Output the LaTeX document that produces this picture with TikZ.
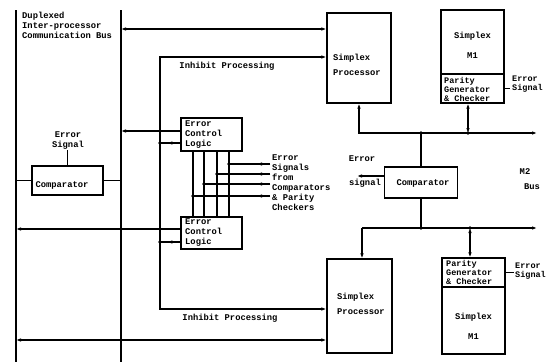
\documentclass[tikz,border=0pt]{standalone}
\usepackage{fontspec}
\setmonofont{Liberation Mono}
\usetikzlibrary{arrows.meta,calc}
\tikzset{
  box/.style={draw, line width=1.2pt, inner sep=0pt},
  lbl/.style={font=\ttfamily\bfseries\fontsize{8.8}{10}\selectfont, inner sep=0pt},
  small/.style={font=\ttfamily\bfseries\fontsize{8.5}{9}\selectfont},
  wire/.style={line width=1.1pt},
  busline/.style={line width=2.4pt},
  jdot/.style={circle, fill, inner sep=0pt, minimum size=3.6pt}
}
\begin{document}
\begin{tikzpicture}[x=1pt,y=-1pt, >={Latex[length=5pt,width=3.6pt]}]
\useasboundingbox (0,0) rectangle (547,362);
% buses
\coordinate (bLt) at (16,10); \coordinate (bLb) at (16,362);
\coordinate (bRt) at (121,10); \coordinate (bRb) at (121,362);
\draw[busline] (bLt) -- (bLb);
\draw[busline] (bRt) -- (bRb);
% boxes
\node[box, minimum width=64pt, minimum height=90pt] (sp1) at (359,58) {};
\node[box, minimum width=65pt, minimum height=94pt] (sp2) at (359.5,306) {};
\node[box, minimum width=63pt, minimum height=64pt] (m1a) at (472.5,42) {};
\node[box, minimum width=63pt, minimum height=29pt] (pa) at (472.5,88.5) {};
\node[box, minimum width=63pt, minimum height=29pt] (pb) at (473.5,272.5) {};
\node[box, minimum width=63pt, minimum height=67pt] (m1b) at (473.5,320.5) {};
\node[box, minimum width=73pt, minimum height=31pt] (cmpR) at (421,182.5) {};
\node[box, minimum width=71pt, minimum height=29pt] (cmpL) at (67.5,180.5) {};
\node[box, minimum width=61pt, minimum height=33pt] (ecl1) at (211.5,134.5) {};
\node[box, minimum width=61pt, minimum height=32pt] (ecl2) at (211.5,233) {};
% texts
\node[lbl, anchor=west, align=left] (tbus) at (22,25.5) {Duplexed\\Inter-processor\\Communication Bus};
\node[lbl, anchor=west, align=left] (sp1t) at (333,64.5) {Simplex\\[5pt]Processor};
\node[lbl, anchor=west, align=left] (sp2t) at (337,304) {Simplex\\[5pt]Processor};
\node[lbl, align=center] (m1at) at (472.5,45) {Simplex\\[10pt]M1};
\node[lbl, align=center] (m1bt) at (473.5,326) {Simplex\\[10pt]M1};
\node[lbl, small, anchor=west, align=left] (pat) at (444,89) {Parity\\Generator\\\& Checker};
\node[lbl, small, anchor=west, align=left] (pbt) at (446,272) {Parity\\Generator\\\& Checker};
\node[lbl, anchor=west, align=left] (ecl1t) at (185,135) {Error\\Control\\Logic};
\node[lbl, anchor=west, align=left] (ecl2t) at (185,233) {Error\\Control\\Logic};
\node[lbl] (cmpRt) at (423,183) {Comparator};
\node[lbl] (cmpLt) at (62,185) {Comparator};
\node[lbl, align=center] (errL) at (68,141) {Error\\Signal};
\node[lbl] (errR1) at (362,159) {Error};
\node[lbl] (errR2) at (365,183) {signal};
\node[lbl] (inh1) at (227,66) {Inhibit Processing};
\node[lbl] (inh2) at (230,318) {Inhibit Processing};
\node[lbl, anchor=west, align=left] (esig) at (272,183) {Error\\Signals\\from\\Comparators\\\& Parity\\Checkers};
\node[lbl] (m2) at (525,172) {M2};
\node[lbl] (m2b) at (532,187) {Bus};
\node[lbl, small, anchor=west, align=left] (erA) at (512,84) {Error\\Signal};
\node[lbl, small, anchor=west, align=left] (erB) at (515,271.5) {Error\\Signal};
% connectors
\coordinate (y29) at (121,29);
\draw[wire, <->] (y29) -- (y29 -| sp1.west);
\coordinate (inT) at (160,57); \coordinate (inB) at (160,309);
\draw[wire, <->] (inT -| sp1.west) -- (inT) -- (inB) -- (inB -| sp2.west);
\coordinate (bot) at (16,340);
\draw[wire, <->] (bot) -- (bot -| sp2.west);
% upper M bus
\coordinate (jA) at (359,133); \coordinate (endA) at (537,133);
\draw[wire, <->] (sp1.south) -- (jA) -- (endA);
\coordinate (jB) at (421,133);
\draw[wire] (jB) -- (cmpR.north);
\node[jdot] (dB) at (jB) {};
\coordinate (jC) at (468,133);
\draw[wire, <->] (jC) -- (jC |- pa.south);
\node[jdot] (dC) at (jC) {};
% lower M bus
\coordinate (jD) at (362,228); \coordinate (endD) at (537,228);
\draw[wire, ->] (jD) -- (jD |- sp2.north);
\draw[wire, ->] (jD) -- (endD);
\coordinate (jE) at (421,228);
\draw[wire] (cmpR.south) -- (jE);
\node[jdot] (dE) at (jE) {};
\coordinate (jF) at (470,228);
\draw[wire, <->] (jF) -- (jF |- pb.north);
\node[jdot] (dF) at (jF) {};
% comparator error signal
\coordinate (eR) at (357,176);
\draw[wire, ->] (eR -| cmpR.west) -- (eR);
% parity error signals
\coordinate (eA) at (510,88.5); \draw[wire] (pa.east) -- (eA);
\coordinate (eB) at (514,272.5); \draw[wire] (pb.east) -- (eB);
% left comparator
\coordinate (cL) at (16,180.5);
\draw[wire] (cL) -- (cmpL.west);
\draw[wire] (cmpL.east) -- (cmpL.east -| bRt);
\draw[wire] (cmpL.north) -- (cmpL.north |- errL.south);
% error control logic
\coordinate (e1a) at (181,131);
\draw[wire, ->] (e1a) -- (e1a -| bRt);
\coordinate (e1b) at (160,143);
\draw[wire] (e1b -| ecl1.west) -- (e1b);
\draw[wire, ->] (e1b -| ecl1.west) -- ($(e1b -| ecl1.west)+(-13,0)$);
\node[jdot] (d1b) at (e1b) {};
\coordinate (e2a) at (181,229);
\draw[wire, ->] (e2a) -- (e2a -| bLt);
\coordinate (e2b) at (160,242);
\draw[wire] (e2b -| ecl2.west) -- (e2b);
\draw[wire, ->] (e2b -| ecl2.west) -- ($(e2b -| ecl2.west)+(-13,0)$);
\node[jdot] (d2b) at (e2b) {};
\foreach \x/\y [count=\i] in {229/164,217/174,204/184,193/196} {
  \coordinate (v\i) at (\x,\y);
  \coordinate (r\i) at (270,\y);
  \draw[wire] (v\i |- ecl1.south) -- (v\i |- ecl2.north);
  \draw[wire] (r\i) -- (v\i);
  \draw[wire, ->] (r\i) -- ($(r\i)+(-13,0)$);
  \node[jdot] (dv\i) at (v\i) {};
}
\end{tikzpicture}
\end{document}
